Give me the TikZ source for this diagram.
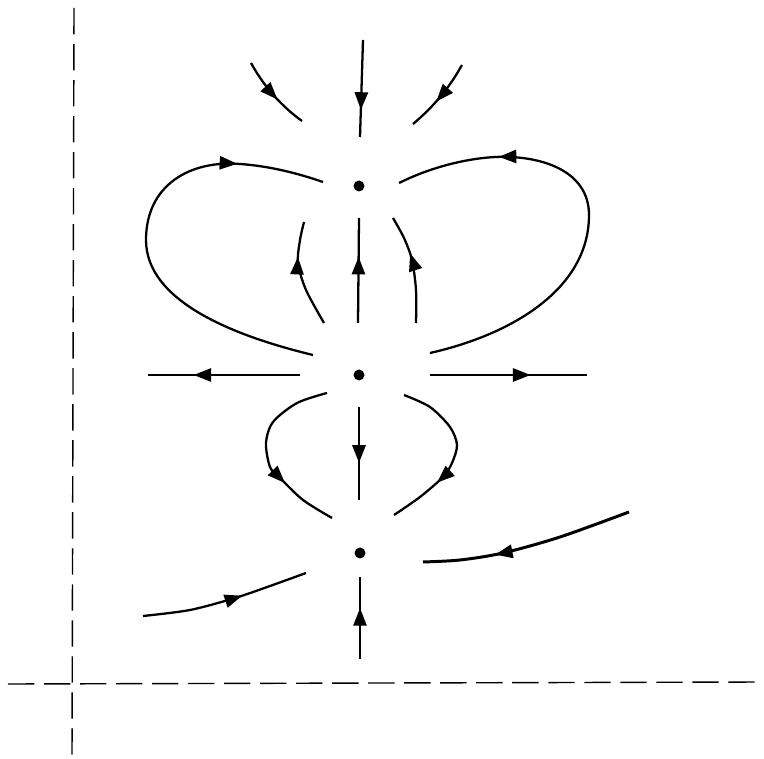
\documentclass[tikz,border=0pt]{standalone}
\usetikzlibrary{arrows.meta,decorations.markings}
\begin{document}
\begin{tikzpicture}[
    x=0.02cm, y=-0.02cm,
    traj/.style={line width=1.3pt},
    flow/.style={traj, postaction={decorate}, decoration={markings, mark=at position #1 with {\arrow{Triangle[length=10pt,width=7.5pt]}}}},
    flow/.default=0.55,
    axis/.style={line width=0.8pt, dash pattern=on 15pt off 5.5pt},
    eq/.style={circle, fill, inner sep=0pt, minimum size=2.2mm}
]
    \useasboundingbox (0,0) rectangle (764,759);

    % Axes
    \draw[axis] (74,8) -- (72,759);
    \draw[axis] (8,684) -- (764,682);

    % Equilibria
    \node[eq] (top) at (359,186) {};
    \node[eq] (mid) at (359,375) {};
    \node[eq] (bot) at (360,553) {};

    % Incoming from above
    \draw[flow=0.72] (363,40) -- (360,137);
    \draw[flow=0.58] (251,63) .. controls (266,90) and (284,108) .. (302,121);
    \draw[flow=0.58] (462,65) .. controls (448,90) and (432,108) .. (413,124);

    % Big loops
    \draw[flow=0.8] (313,355) .. controls (230,335) and (146,300) .. (146,240)
        .. controls (146,185) and (190,160) .. (240,164)
        .. controls (270,166) and (300,174) .. (323,182);
    \draw[flow=0.77] (430,353) .. controls (510,335) and (589,290) .. (589,215)
        .. controls (589,170) and (540,155) .. (495,157)
        .. controls (460,159) and (425,170) .. (399,183);

    % Between top and middle
    \draw[flow=0.63] (358,323) -- (359,218);
    \draw[flow=0.67] plot[smooth] coordinates {(324,323) (306,290) (298,263) (300,240) (304,222)};
    \draw[flow=0.64] plot[smooth] coordinates {(416,323) (416,290) (412,260) (404,238) (393,218)};

    % Saddle directions
    \draw[flow=0.7] (300,375) -- (148,375);
    \draw[flow=0.64] (430,375) -- (587,375);

    % Small loops
    \draw[flow=0.69] plot[smooth] coordinates {(327,393) (297,403) (273,422) (266,443) (270,467) (280,478) (303,500) (332,518)};
    \draw[flow=0.69] plot[smooth] coordinates {(404,395) (430,407) (450,427) (457,445) (452,463) (443,477) (420,497) (394,515)};
    \draw[flow=0.6] (359,407) -- (359,500);

    % Near the lower point
    \draw[flow=0.66, line width=1.7pt] plot[smooth] coordinates {(629,512) (560,537) (503,553) (460,560) (423,562)};
    \draw[flow=0.6] plot[smooth] coordinates {(143,616) (190,610) (235,598) (270,586) (306,573)};
    \draw[flow=0.62] (360,659) -- (360,577);

\end{tikzpicture}
\end{document}
